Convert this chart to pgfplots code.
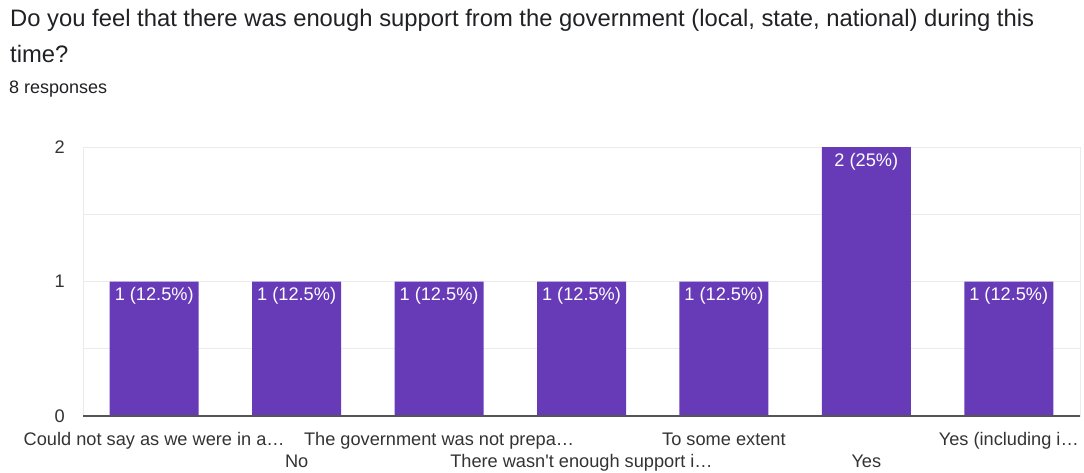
\documentclass[border=0pt]{standalone}
\usepackage{pgfplots}
\pgfplotsset{compat=1.18}
\usepackage{fontspec}
\setmainfont{Liberation Sans}
\definecolor{barc}{HTML}{673AB7}
\definecolor{titlec}{HTML}{202124}
\definecolor{labc}{HTML}{333333}
\definecolor{gridc}{HTML}{EBEBEB}
\definecolor{axc}{HTML}{555555}
\begin{document}
\begin{tikzpicture}[x=1pt,y=1pt]
\path[use as bounding box] (0,0) rectangle (1084,472);
\node[anchor=base west,inner sep=0,text=titlec,font=\fontsize{23.8}{26}\selectfont] at (10,445) {Do you feel that there was enough support from the government (local, state, national) during this};
\node[anchor=base west,inner sep=0,text=titlec,font=\fontsize{23.8}{26}\selectfont] at (10,409) {time?};
\node[anchor=base west,inner sep=0,text=titlec,font=\fontsize{18}{20}\selectfont] at (9,378) {8 responses};
\begin{axis}[
  at={(83pt,56pt)}, anchor=south west,
  scale only axis, width=997pt, height=269pt,
  xmin=-0.5, xmax=6.5, ymin=0, ymax=2,
  ybar, bar width=89pt,
  axis line style={draw=gridc},
  ytick={0,1,2}, yticklabels={0,1,2},
  minor ytick={0.5,1.5},
  ymajorgrids, yminorgrids,
  grid style={draw=gridc, line width=0.8pt},
  major tick length=0pt, minor tick length=0pt,
  xtick={0,1,2,3,4,5,6},
  xticklabels={
    {\strut Could not say as we were in a…},
    {\strut\\No},
    {\strut The government was not prepa…},
    {\strut\\There wasn\textquotesingle t enough support i…},
    {\strut To some extent},
    {\strut\\Yes},
    {\strut Yes (including i…}},
  xticklabel style={anchor=north, inner sep=0pt, yshift=-13.6pt, align=center, text=labc, font=\fontsize{18.2}{22}\selectfont},
  yticklabel style={anchor=east, inner sep=0pt, xshift=-18pt, text=labc, font=\fontsize{18.2}{21}\selectfont},
  point meta=explicit symbolic,
  nodes near coords,
  every node near coord/.append style={anchor=north, inner sep=0pt, yshift=-6pt, text=white, font=\fontsize{18.2}{21}\selectfont},
  clip=false,
]
\addplot[fill=barc, draw=none] coordinates {
  (0,1) [1 (12.5\%)]
  (1,1) [1 (12.5\%)]
  (2,1) [1 (12.5\%)]
  (3,1) [1 (12.5\%)]
  (4,1) [1 (12.5\%)]
  (5,2) [2 (25\%)]
  (6,1) [1 (12.5\%)]
};
\draw[axc, line width=1.5pt] (axis cs:-0.5,0) -- (axis cs:6.5,0);
\end{axis}
\end{tikzpicture}
\end{document}
